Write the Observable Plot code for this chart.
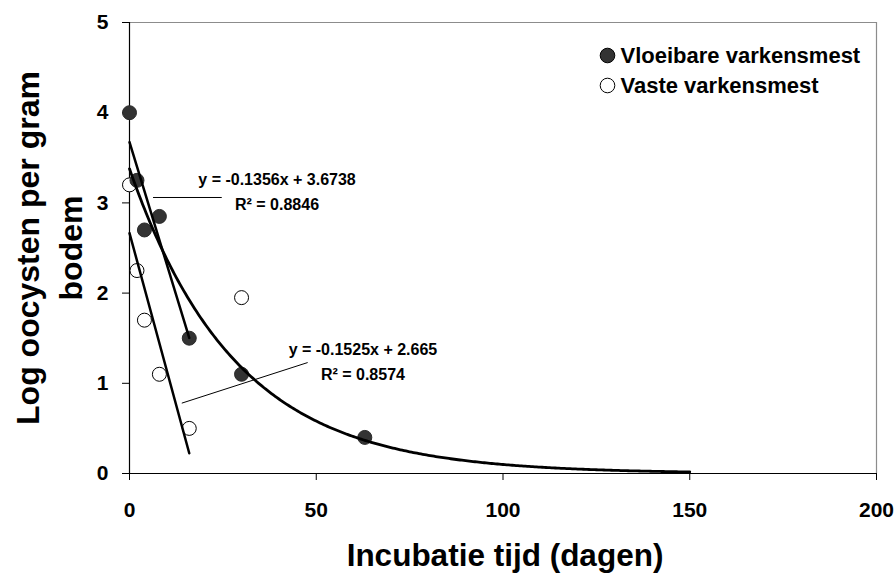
<!DOCTYPE html>
<html>
<head>
<meta charset="utf-8">
<script src="https://cdn.jsdelivr.net/npm/d3@7"></script>
<script src="https://cdn.jsdelivr.net/npm/@observablehq/plot@0.6"></script>
<style>
  html, body { margin: 0; padding: 0; background: #fff; }
  svg { display: block; }
</style>
</head>
<body>
<div id="chart"></div>
<script>
// ---- data ----
const seriesNames = ["Vloeibare varkensmest", "Vaste varkensmest"];
const seriesFill  = ["#333", "#fff"];
const dagenVloeibaar = [0, 2, 4, 8, 16, 30, 63];
const logVloeibaar   = [4.0, 3.25, 2.7, 2.85, 1.5, 1.1, 0.4];
const dagenVast      = [0, 2, 4, 8, 16, 30];
const logVast        = [3.2, 2.25, 1.7, 1.1, 0.5, 1.95];
const linearFitMaxX  = 16;      // linear trend lines use the first 5 samples
const expTrendEndX   = 150;     // exponential trendline drawn up to day 150
const xTicks = [0, 50, 100, 150, 200];
const yTicks = [0, 1, 2, 3, 4, 5];
const trendLabels = ["y = -0.1356x + 3.6738\nR² = 0.8846", "y = -0.1525x + 2.665\nR² = 0.8574"];
// annotation anchors (data units): label centre, leader line start/end
const labelX = [39.5, 62.5];
const labelY = [3.15, 1.26];
const leaderX1 = [6.3, 14.0], leaderY1 = [3.06, 0.78];
const leaderX2 = [24.7, 47.7], leaderY2 = [3.06, 1.23];
const xTitle = "Incubatie tijd (dagen)";
const yTitle = "Log oocysten per gram\nbodem";

// ---- tables ----
const vloeibaar = dagenVloeibaar.map((d, i) => ({x: d, y: logVloeibaar[i]}));
const vast = dagenVast.map((d, i) => ({x: d, y: logVast[i]}));
const annotations = trendLabels.map((t, i) => ({
  text: t, x: labelX[i], y: labelY[i],
  x1: leaderX1[i], y1: leaderY1[i], x2: leaderX2[i], y2: leaderY2[i]
}));

// exponential trendline (least squares on ln y), fitted from the filled series
const mx = d3.mean(vloeibaar, d => d.x);
const ml = d3.mean(vloeibaar, d => Math.log(d.y));
const sxy = d3.sum(vloeibaar, d => (d.x - mx) * (Math.log(d.y) - ml));
const sxx = d3.sum(vloeibaar, d => (d.x - mx) ** 2);
const bExp = sxy / sxx;
const aExp = Math.exp(ml - bExp * mx);
const expCurve = d3.range(0, expTrendEndX + 0.001, 0.5).map(x => ({x, y: aExp * Math.exp(bExp * x)}));

// legend marks (placed in the frame's top-right corner)
const legendMarks = seriesNames.flatMap((name, i) => [
  Plot.dot([name], {frameAnchor: "top-right", dx: -269, dy: 33 + 30 * i, r: 7.3,
    fill: seriesFill[i], stroke: "#000", strokeWidth: 1}),
  Plot.text([name], {frameAnchor: "top-right", dx: -256, dy: 33 + 30 * i, text: d => d,
    textAnchor: "start", lineAnchor: "middle", fontSize: 22, fontWeight: "bold", fill: "#000"})
]);

const chart = Plot.plot({
  width: 896,
  height: 573,
  marginLeft: 129,
  marginRight: 20,
  marginTop: 22,
  marginBottom: 100,
  style: {fontFamily: "'Liberation Sans', Arial, sans-serif", fontSize: "21px", fontWeight: "bold", color: "#000", background: "#fff"},
  x: {domain: [0, 200]},
  y: {domain: [0, 5]},
  marks: [
    // frame: grey top/right, black axes
    Plot.ruleY([5], {stroke: "#8c8c8c", strokeWidth: 1.2}),
    Plot.ruleX([200], {stroke: "#8c8c8c", strokeWidth: 1.2}),
    Plot.axisX({ticks: xTicks, tickSize: 7, tickPadding: 22, label: null, tickFormat: d => String(d), stroke: "#000"}),
    Plot.axisY({ticks: yTicks, tickSize: 7, tickPadding: 14, label: null, tickFormat: d => String(d), stroke: "#000"}),
    Plot.ruleX([0], {stroke: "#000", strokeWidth: 1.2}),
    Plot.ruleY([0], {stroke: "#000", strokeWidth: 1.2}),
    // points
    Plot.dot(vast, {x: "x", y: "y", r: 7, fill: seriesFill[1], stroke: "#000", strokeWidth: 1}),
    Plot.dot(vloeibaar, {x: "x", y: "y", r: 7, fill: seriesFill[0], stroke: "#2a2a2a", strokeWidth: 1}),
    // trend lines
    Plot.linearRegressionY(vloeibaar.filter(d => d.x <= linearFitMaxX), {x: "x", y: "y", ci: 0, stroke: "#000", strokeWidth: 2.5}),
    Plot.linearRegressionY(vast.filter(d => d.x <= linearFitMaxX), {x: "x", y: "y", ci: 0, stroke: "#000", strokeWidth: 2.5}),
    Plot.line(expCurve, {x: "x", y: "y", stroke: "#000", strokeWidth: 2.8}),
    // annotations
    Plot.link(annotations, {x1: "x1", y1: "y1", x2: "x2", y2: "y2", stroke: "#000", strokeWidth: 1}),
    Plot.text(annotations, {x: "x", y: "y", text: "text", fontSize: 16, fontWeight: "bold", lineHeight: 1.55, textAnchor: "middle", lineAnchor: "middle", fill: "#000"}),
    ...legendMarks,
    // axis titles
    Plot.text([xTitle], {frameAnchor: "bottom", dx: 2, dy: 82, text: d => d, fontSize: 31.5, fontWeight: "bold", lineAnchor: "middle", fill: "#000"}),
    Plot.text([yTitle], {frameAnchor: "left", dx: -83, text: d => d, fontSize: 32, fontWeight: "bold", rotate: -90, lineHeight: 1.34, lineAnchor: "middle", textAnchor: "middle", fill: "#000"})
  ]
});

document.getElementById("chart").appendChild(chart);
</script>
</body>
</html>
